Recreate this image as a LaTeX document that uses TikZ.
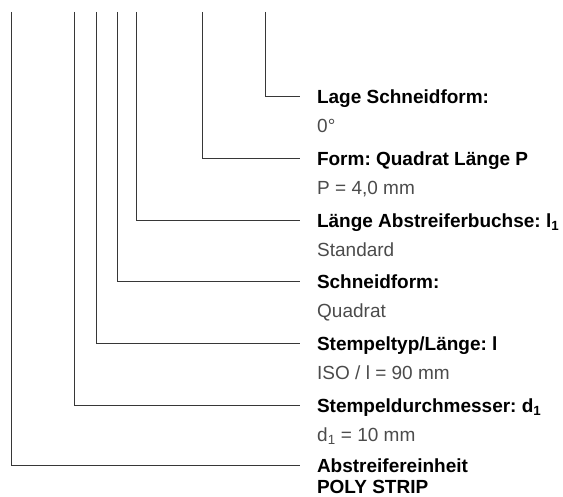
\documentclass[tikz,border=0pt]{standalone}
\usepackage{fontspec}
\setmainfont{Liberation Sans}
\usetikzlibrary{positioning}
\definecolor{cLine}{RGB}{55,55,55}
\definecolor{cValue}{RGB}{75,75,75}
\frenchspacing
\tikzset{
	lbl/.style ={anchor=base west, inner sep=0pt, outer xsep=17pt, align=left, font=\bfseries\fontsize{19}{21}\selectfont},
	val/.style ={anchor=base west, inner sep=0pt, text=cValue, font=\fontsize{19}{21}\selectfont},
	lead/.style={draw=cLine, line width=1pt},
}

\begin{document}
\begin{tikzpicture}[x=1pt, y=1pt]
	\useasboundingbox (0,0) rectangle (563,-497);
	% upper ends of the leaders
	\coordinate (tLage)  at (265,-12);
	\coordinate (tForm)  at (202,-12);
	\coordinate (tBuch)  at (136,-12);
	\coordinate (tSchn)  at (117,-12);
	\coordinate (tStem)  at (96,-12);
	\coordinate (tDurch) at (74,-12);
	\coordinate (tEinh)  at (11,-12);
	% labels and values
	\node[lbl] (lage)  at (300,-103.8) {Lage Schneidform:};
	\node[val] (vLage) at (317,-132.8) {0°};
	\node[lbl] (form)  at (300,-165.5) {Form: Quadrat Länge P};
	\node[val] (vForm) at (317,-194.5) {P = 4,0 mm};
	\node[lbl] (buch)  at (300,-227.1) {Länge Abstreiferbuchse: l\textsubscript{1}};
	\node[val] (vBuch) at (317,-256.1) {Standard};
	\node[lbl] (schn)  at (300,-288.8) {Schneidform:};
	\node[val] (vSchn) at (317,-317.8) {Quadrat};
	\node[lbl] (stem)  at (300,-350.6) {Stempeltyp/Länge: l};
	\node[val] (vStem) at (317,-379.6) {ISO / l = 90 mm};
	\node[lbl] (durch) at (300,-412.3) {Stempeldurchmesser: d\textsubscript{1}};
	\node[val] (vDurch) at (317,-441.3) {d\textsubscript{1} = 10 mm};
	\node[lbl] (einh)  at (300,-493.5) {Abstreifereinheit\\POLY STRIP};
	% leaders
	\draw[lead] (tLage)  |- ([yshift=6.8pt]lage.base west);
	\draw[lead] (tForm)  |- ([yshift=6.8pt]form.base west);
	\draw[lead] (tBuch)  |- ([yshift=6.8pt]buch.base west);
	\draw[lead] (tSchn)  |- ([yshift=6.8pt]schn.base west);
	\draw[lead] (tStem)  |- ([yshift=6.8pt]stem.base west);
	\draw[lead] (tDurch) |- ([yshift=6.8pt]durch.base west);
	\draw[lead] (tEinh)  |- ([yshift=27.8pt]einh.base west);
\end{tikzpicture}
\end{document}
